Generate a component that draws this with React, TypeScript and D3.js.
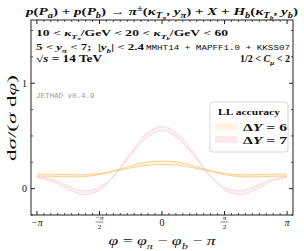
import * as d3 from 'd3';

const W = 304;
const H = 251;
const PI = Math.PI;

// phi grid in steps of pi/8
const phiSteps = [-8, -7, -6, -5, -4, -3, -2, -1, 0, 1, 2, 3, 4, 5, 6, 7, 8];
const phiGrid = phiSteps.map(k => (k * PI) / 8);

// DeltaY = 6 band (upper / lower edge)
const dy6Upper = [0.140, 0.137, 0.133, 0.132, 0.145, 0.173, 0.216, 0.252, 0.262, 0.252, 0.216, 0.173, 0.145, 0.132, 0.133, 0.137, 0.140];
const dy6Lower = [0.120, 0.116, 0.112, 0.114, 0.133, 0.167, 0.197, 0.221, 0.228, 0.221, 0.197, 0.167, 0.133, 0.114, 0.112, 0.116, 0.120];

// DeltaY = 7 band (upper / lower edge)
const dy7Upper = [0.115, 0.088, 0.024, -0.020, 0.012, 0.140, 0.340, 0.520, 0.590, 0.520, 0.340, 0.140, 0.012, -0.020, 0.024, 0.088, 0.115];
const dy7Lower = [0.105, 0.068, -0.008, -0.056, -0.012, 0.131, 0.316, 0.480, 0.550, 0.480, 0.316, 0.131, -0.012, -0.056, -0.008, 0.068, 0.105];

const yMajor = [0, 1];
const yMinor = [-0.25, 0.25, 0.5, 0.75, 1.25, 1.5];
const xMajorSteps = [-2, -1, 0, 1, 2]; // in units of pi/2
const legendLabels = ['6', '7'];

const serif = '"Liberation Serif", "DejaVu Serif", serif';
const mono = '"Liberation Mono", "DejaVu Sans Mono", monospace';

type Piece = { t: string; off: number; scale: number; it: boolean };

// tiny math markup: _x or _{..} subscript, ^{..} superscript, \r{..} roman
function parse(s: string, off: number, scale: number, roman: boolean): Piece[] {
  const out: Piece[] = [];
  let i = 0;
  const group = (): string => {
    if (s[i] === '{') {
      let depth = 1;
      let j = i + 1;
      while (j < s.length && depth > 0) {
        if (s[j] === '{') depth++;
        if (s[j] === '}') depth--;
        j++;
      }
      const g = s.slice(i + 1, j - 1);
      i = j;
      return g;
    }
    const g = s[i];
    i++;
    return g;
  };
  while (i < s.length) {
    const c = s[i];
    if (c === '_' || c === '^') {
      i++;
      const g = group();
      const d = c === '_' ? 0.28 * scale : -0.4 * scale;
      out.push(...parse(g, off + d, scale * 0.7, roman));
    } else if (s.startsWith('\\r{', i)) {
      i += 2;
      const g = group();
      out.push(...parse(g, off, scale, true));
    } else {
      const it = !roman && /[A-Za-zα-ωκσφπμ]/.test(c);
      const last = out[out.length - 1];
      if (last && last.off === off && last.scale === scale && last.it === it) last.t += c;
      else out.push({ t: c, off, scale, it });
      i++;
    }
  }
  return out;
}

function MathText(props: { x: number; y: number; s: string; fs: number; anchor?: string; bold?: boolean; len?: number; transform?: string }) {
  const pieces = parse(props.s, 0, 1, false);
  let prev = 0;
  return (
    <text
      x={props.x}
      y={props.y}
      fontSize={props.fs}
      fontFamily={serif}
      fontWeight={props.bold ? 'bold' : 'normal'}
      textAnchor={props.anchor || 'start'}
      textLength={props.len}
      lengthAdjust={props.len ? 'spacingAndGlyphs' : undefined}
      transform={props.transform}
      style={{ whiteSpace: 'pre' }}
      fill="#111"
    >
      {pieces.map((p, k) => {
        const dy = (p.off - prev) * props.fs;
        prev = p.off;
        return (
          <tspan key={k} dy={dy} fontSize={props.fs * p.scale} fontStyle={p.it ? 'italic' : 'normal'}>
            {p.t}
          </tspan>
        );
      })}
    </text>
  );
}

export default function App() {
  const left = 31, right = 293, top = 20, bottom = 215;
  const x = d3.scaleLinear().domain([-3.29, 3.29]).range([left, right]);
  const y = d3.scaleLinear().domain([-0.25, 1.6]).range([bottom, top]);

  const line = d3.line<number>().x((_, i) => x(phiGrid[i])).y(d => y(d)).curve(d3.curveCatmullRom);
  const area = (up: number[], lo: number[]) =>
    d3.area<number>()
      .x((_, i) => x(phiGrid[i]))
      .y0((_, i) => y(lo[i]))
      .y1((_, i) => y(up[i]))
      .curve(d3.curveCatmullRom)(phiGrid) || '';

  const xMinor = d3.range(-18, 19).map(k => (k * PI) / 18).filter((_, k) => k % 9 !== 0);

  const orangeLine = '#fcca80';
  const redLine = '#efbac6';

  return (
    <svg width={W} height={H} style={{ position: 'absolute', left: 0, top: 0, background: '#fff' }}>
      {/* title */}
      <MathText x={162} y={15} fs={10.5} bold anchor="middle" len={272}
        s={'p(P_a) + p(P_b) → π^{±}(κ_{T_π}, y_π) + X + H_b(κ_{T_b}, y_b)'} />

      {/* bands */}
      <path d={area(dy6Upper, dy6Lower)} fill="#fde3b8" opacity={0.4} />
      <path d={area(dy7Upper, dy7Lower)} fill="#f5cdd6" opacity={0.25} />
      <path d={line(dy6Upper) || ''} fill="none" stroke={orangeLine} strokeWidth={0.9} />
      <path d={line(dy6Lower) || ''} fill="none" stroke={orangeLine} strokeWidth={0.9} />
      <path d={line(dy7Upper) || ''} fill="none" stroke={redLine} strokeWidth={0.9} strokeDasharray="1.4,1" />
      <path d={line(dy7Lower) || ''} fill="none" stroke={redLine} strokeWidth={0.9} strokeDasharray="1.4,1" />

      {/* frame */}
      <rect x={left} y={top} width={right - left} height={bottom - top} fill="none" stroke="#222" strokeWidth={1} />

      {/* y ticks */}
      {yMajor.map(v => (
        <g key={'ym' + v}>
          <line x1={left} x2={left + 4} y1={y(v)} y2={y(v)} stroke="#222" />
          <line x1={right} x2={right - 4} y1={y(v)} y2={y(v)} stroke="#222" />
          <text x={27} y={y(v) + 3.5} fontSize={10} fontFamily={serif} textAnchor="end" fill="#111">{v}</text>
        </g>
      ))}
      {yMinor.map(v => (
        <g key={'yn' + v}>
          <line x1={left} x2={left + 2} y1={y(v)} y2={y(v)} stroke="#222" strokeWidth={0.8} />
          <line x1={right} x2={right - 2} y1={y(v)} y2={y(v)} stroke="#222" strokeWidth={0.8} />
        </g>
      ))}

      {/* x ticks */}
      {xMajorSteps.map(k => {
        const px = x((k * PI) / 2);
        return (
          <g key={'xm' + k}>
            <line x1={px} x2={px} y1={bottom} y2={bottom - 4} stroke="#222" />
            <line x1={px} x2={px} y1={top} y2={top + 4} stroke="#222" />
            {Math.abs(k) === 1 ? (
              <g>
                <text x={px} y={220} fontSize={7} fontFamily={serif} textAnchor="middle" fontStyle="italic" fill="#111">
                  {k < 0 ? '−π' : 'π'}
                </text>
                <line x1={px - 4} x2={px + 4} y1={222} y2={222} stroke="#111" strokeWidth={0.5} />
                <text x={px} y={229} fontSize={7} fontFamily={serif} textAnchor="middle" fill="#111">2</text>
              </g>
            ) : (
              <text x={px} y={226} fontSize={10} fontFamily={serif} textAnchor="middle" fill="#111" fontStyle={k === 0 ? 'normal' : 'italic'}>
                {k === 0 ? '0' : k < 0 ? '−π' : 'π'}
              </text>
            )}
          </g>
        );
      })}
      {xMinor.map((v, i) => (
        <g key={'xn' + i}>
          <line x1={x(v)} x2={x(v)} y1={bottom} y2={bottom - 2} stroke="#222" strokeWidth={0.8} />
          <line x1={x(v)} x2={x(v)} y1={top} y2={top + 2} stroke="#222" strokeWidth={0.8} />
        </g>
      ))}

      {/* annotations */}
      <MathText x={36} y={36} fs={9} bold len={192} s={'10 < κ_{T_π}/\\r{GeV} < 20 < κ_{T_b}/\\r{GeV} < 60'} />
      <MathText x={36} y={50} fs={9} bold len={108} s={'5 < y_π < 7;  |y_b| < 2.4'} />
      <text x={146} y={50} fontSize={8} fontFamily={mono} textLength={144} lengthAdjust="spacingAndGlyphs" fill="#111">
        MMHT14 + MAPFF1.0 + KKSS07
      </text>
      <MathText x={36} y={62} fs={9.5} bold len={66} s={'√s = 14 \\r{TeV}'} />
      <MathText x={290} y={62} fs={9.5} bold anchor="end" len={50} s={'1/2 < C_μ < 2'} />
      <text x={36} y={98} fontSize={7.5} fontFamily={mono} fill="#999">JETHAD v0.4.9</text>

      {/* legend */}
      <rect x={210} y={102} width={78} height={50} rx={3} fill="#fff" fillOpacity={0.85} stroke="#ccc" strokeWidth={0.8} />
      <text x={249} y={115} fontSize={9} fontFamily={serif} fontWeight="bold" textAnchor="middle" fill="#111" textLength={62} lengthAdjust="spacingAndGlyphs">LL accuracy</text>
      {legendLabels.map((lab, i) => (
        <g key={'lg' + lab}>
          <rect x={215} y={123 + i * 13} width={22} height={7} fill={i === 0 ? '#fff4e2' : '#fce8ed'} />
          <MathText x={287} y={130.5 + i * 13} fs={9.5} bold anchor="end" len={44} s={'ΔY = ' + lab} />
        </g>
      ))}

      {/* axis labels */}
      <MathText x={0} y={0} fs={12.5} transform="translate(16,118) rotate(-90)" anchor="middle" len={86} s={'\\r{d}σ/(σ \\r{d}φ)'} />
      <MathText x={162} y={245} fs={12.5} anchor="middle" len={107} s={'φ = φ_π − φ_b − π'} />
    </svg>
  );
}
